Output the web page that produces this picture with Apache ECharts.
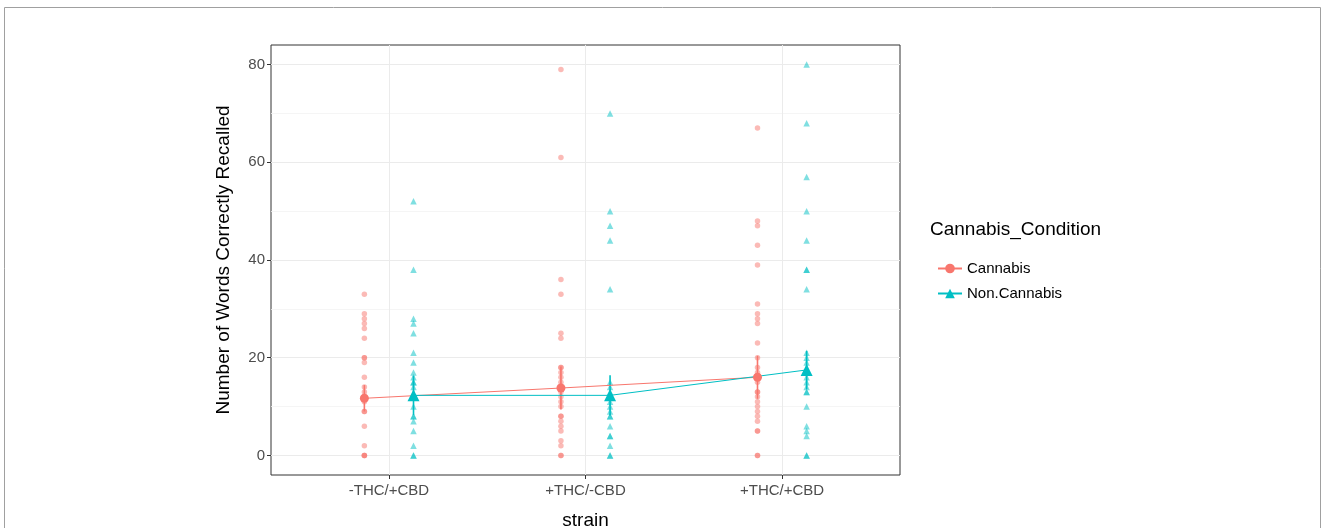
<!DOCTYPE html>
<html>
<head>
<meta charset="utf-8">
<script src="https://cdn.jsdelivr.net/npm/echarts@6/dist/echarts.min.js"></script>
<style>html,body{margin:0;padding:0;background:#fff;}#c{width:1328px;height:528px;}</style>
</head>
<body>
<div id="c"></div>
<script>
// ---- data ----
const categories = ['-THC/+CBD', '+THC/-CBD', '+THC/+CBD'];
const groups = ['Cannabis', 'Non.Cannabis'];
const yTicks = [0, 20, 40, 60, 80];
const yMinor = [10, 30, 50, 70];

const cannabisRaw = [
  [33, 29, 28, 27, 26, 24, 20, 20, 19, 16, 14, 13, 12, 11, 9, 9, 6, 2, 0, 0, 0],
  [79, 61, 36, 33, 25, 24, 18, 18, 17, 16, 15, 14, 13, 12, 11, 10, 8, 8, 7, 6, 5, 3, 2, 0, 0],
  [67, 48, 47, 43, 39, 31, 29, 28, 27, 23, 20, 18, 17, 16, 15, 13, 13, 12, 11, 10, 9, 8, 7, 5, 5, 0, 0]
];
const nonCannabisRaw = [
  [52, 38, 28, 27, 25, 21, 19, 17, 16, 15, 15, 14, 12, 12, 10, 8, 8, 7, 5, 2, 0, 0],
  [70, 50, 47, 44, 34, 15, 14, 13, 12, 11, 10, 9, 8, 8, 6, 4, 4, 2, 0, 0],
  [80, 68, 57, 50, 44, 38, 38, 34, 21, 20, 19, 17, 16, 15, 14, 13, 13, 10, 6, 5, 4, 0, 0]
];
const cannabisMean = [11.7, 13.8, 16.0];
const nonCannabisMean = [12.3, 12.3, 17.5];
const cannabisSE = [2.7, 4.4, 4.4];
const nonCannabisSE = [4.0, 4.1, 3.9];

// ---- build ----
const RED = '#F8766D', TEAL = '#00BFC4';
const dodge = 0.125;
function rawPts(raw, off) {
  const out = [];
  raw.forEach((vals, i) => vals.forEach(v => out.push([i + 1 + off, v])));
  return out;
}
function meanPts(m, off) { return m.map((v, i) => [i + 1 + off, v]); }
function barPts(m, se, off) { return m.map((v, i) => [i + 1 + off, v - se[i], v + se[i]]); }

function errSeries(name, data, color) {
  return {
    type: 'custom', name: name + '_se', z: 4,
    data: data,
    renderItem: function (params, api) {
      const p1 = api.coord([api.value(0), api.value(1)]);
      const p2 = api.coord([api.value(0), api.value(2)]);
      return { type: 'line', shape: { x1: p1[0], y1: p1[1], x2: p2[0], y2: p2[1] },
               style: { stroke: color, lineWidth: 1.6 } };
    },
    encode: { x: 0, y: [1, 2] }
  };
}

const gridLineStyle = { color: '#ebebeb', width: 1, type: 'solid' };
const chart = echarts.init(document.getElementById('c'));
chart.setOption({
  animation: false,
  backgroundColor: '#fff',
  textStyle: { fontFamily: 'Liberation Sans, Arial, sans-serif' },
  grid: { left: 271, top: 45, width: 629, height: 430, show: true,
          outerBoundsMode: 'none', containLabel: false,
          borderColor: '#333333', borderWidth: 1, backgroundColor: 'transparent' },
  xAxis: {
    type: 'value', min: 0.4, max: 3.6,
    axisLine: { show: false, onZero: false },
    splitLine: { show: false },
    axisTick: { show: true, length: 4, lineStyle: { color: '#333' }, customValues: [1, 2, 3] },
    axisLabel: { customValues: [1, 2, 3], formatter: v => categories[Math.round(v) - 1] || '',
                 color: '#4d4d4d', fontSize: 15, margin: 8 },
    name: 'strain', nameLocation: 'middle', nameGap: 36,
    nameTextStyle: { color: '#000', fontSize: 19 }
  },
  yAxis: {
    type: 'value', min: -4, max: 84,
    axisLine: { show: false, onZero: false },
    splitLine: { show: false },
    axisTick: { show: true, length: 4, lineStyle: { color: '#333' }, customValues: yTicks },
    axisLabel: { customValues: yTicks, color: '#4d4d4d', fontSize: 15, margin: 6 },
    name: 'Number of Words Correctly Recalled', nameLocation: 'middle', nameGap: 38,
    nameRotate: 90, nameTextStyle: { color: '#000', fontSize: 19 }
  },
  legend: {
    orient: 'vertical', left: 932, top: 256,
    itemWidth: 24, itemHeight: 12, itemGap: 10,
    textStyle: { fontSize: 15, color: '#000' },
    data: groups
  },
  graphic: [
    { type: 'text', left: 930, top: 220,
      style: { text: 'Cannabis_Condition', fontSize: 19, fill: '#000',
               fontFamily: 'Liberation Sans, Arial, sans-serif' } },
    { type: 'rect', shape: { x: 4.5, y: 7.5, width: 1316, height: 540 },
      style: { fill: 'none', stroke: '#a0a0a0', lineWidth: 1 }, silent: true }
  ],
  series: [
    {
      type: 'line', name: groups[0], data: meanPts(cannabisMean, -dodge), z: 5,
      symbol: 'circle', symbolSize: 9, itemStyle: { color: RED },
      lineStyle: { color: RED, width: 1 },
      markLine: {
        silent: true, symbol: 'none', label: { show: false }, z: 0,
        data: yTicks.map(v => ({ yAxis: v, lineStyle: gridLineStyle }))
          .concat(yMinor.map(v => ({ yAxis: v, lineStyle: { color: '#f2f2f2', width: 0.8, type: 'solid' } })))
          .concat([1, 2, 3].map(v => ({ xAxis: v, lineStyle: gridLineStyle })))
      }
    },
    {
      type: 'line', name: groups[1], data: meanPts(nonCannabisMean, dodge), z: 5,
      symbol: 'triangle', symbolSize: 12, itemStyle: { color: TEAL },
      lineStyle: { color: TEAL, width: 1 }
    },
    {
      type: 'scatter', name: 'Cannabis_raw', data: rawPts(cannabisRaw, -dodge), z: 3,
      symbol: 'circle', symbolSize: 5.5, itemStyle: { color: RED, opacity: 0.5 }
    },
    {
      type: 'scatter', name: 'NonCannabis_raw', data: rawPts(nonCannabisRaw, dodge), z: 3,
      symbol: 'triangle', symbolSize: 6.5, itemStyle: { color: TEAL, opacity: 0.5 }
    },
    errSeries('Cannabis', barPts(cannabisMean, cannabisSE, -dodge), RED),
    errSeries('Non.Cannabis', barPts(nonCannabisMean, nonCannabisSE, dodge), TEAL)
  ]
});
</script>
</body>
</html>
